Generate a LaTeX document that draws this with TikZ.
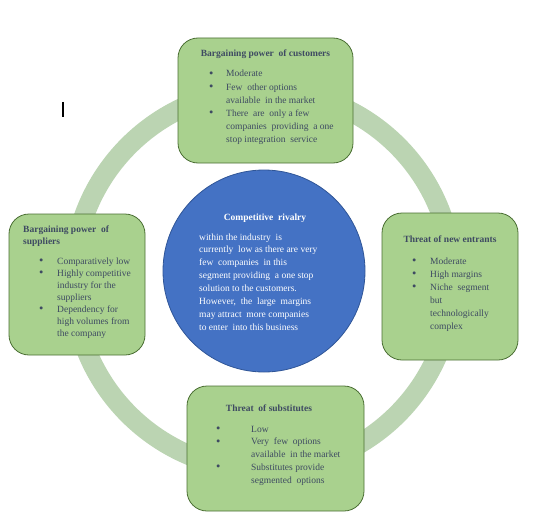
\documentclass[tikz,border=0pt]{standalone}
\usepackage{fontspec}
\setmainfont{Liberation Serif}
\usepackage{array}
\definecolor{ringc}{HTML}{BBD4B2}
\definecolor{boxfill}{HTML}{A9D18E}
\definecolor{boxline}{HTML}{4A6E33}
\definecolor{blue1}{HTML}{4472C4}
\definecolor{blue2}{HTML}{2F5597}
\definecolor{txt}{HTML}{3E4A62}
\newcommand{\bl}{\makebox[0pt][l]{\raisebox{-0.3pt}{\scalebox{1.3}{\textbullet}}}}
\begin{document}
\begin{tikzpicture}[x=1pt,y=-1pt,
  boxstyle/.style={draw=boxline,line width=0.8pt,fill=boxfill,rounded corners=20pt},
  ttl/.style={font=\fontsize{9.5}{12}\selectfont\bfseries,text=txt,inner sep=0pt},
  body/.style={font=\fontsize{9.5}{13}\selectfont,text=txt,inner sep=0pt,anchor=base west}]
\useasboundingbox (0,0) rectangle (548,524);
% ring
\draw[ringc,line width=20pt] (263,280) circle (190);
% boxes
\draw[boxstyle] (178,38) rectangle (353,163);
\draw[boxstyle] (9,214) rectangle (145,355);
\draw[boxstyle] (382,213) rectangle (518,360);
\draw[boxstyle] (187,386) rectangle (364,511);
% center circle
\node[circle,draw=blue2,line width=0.8pt,fill=blue1,minimum size=202pt,inner sep=0pt] (cr) at (264,271) {};
% cursor bar
\coordinate (c1) at (63,102); \coordinate (c2) at (63,117);
\draw[black,line width=1.6pt] (c1) -- (c2);
% top
\node[ttl,anchor=base] (t1) at (265.5,57) {Bargaining power\ \ of customers};
\node[body] (l1) at (209,77) {\fontsize{9.5}{13.2}\selectfont\begin{tabular}[t]{@{}p{17pt}@{}l@{}}
\bl & Moderate\\
\bl & Few\ \ other options\\
 & available\ \ in the market\\
\bl & There\ \ are\ \ only a few\\
 & companies\ \ providing\ \ a one\\
 & stop integration\ \ service
\end{tabular}};
% left
\node[ttl,anchor=base west] (t2) at (23,232) {Bargaining power\ \ of};
\node[ttl,anchor=base west] (t2b) at (23,244) {suppliers};
\node[body] (l2) at (39,264) {\fontsize{9.5}{12}\selectfont\begin{tabular}[t]{@{}p{18pt}@{}l@{}}
\bl & Comparatively low\\
\bl & Highly competitive\\
 & industry for the\\
 & suppliers\\
\bl & Dependency for\\
 & high volumes from\\
 & the company
\end{tabular}};
% center
\node[ttl,anchor=base,text=white] (t3) at (265,220) {Competitive\ \ rivalry};
\node[body,text=white] (l3) at (199,240) {\fontsize{9.5}{12.86}\selectfont\begin{tabular}[t]{@{}l@{}}
within the industry\ \ is\\
currently\ \ low as there are very\\
few\ \ companies\ \ in this\\
segment providing\ \ a one stop\\
solution to the customers.\\
However,\ \ the\ \ large\ \ margins\\
may attract\ \ more companies\\
to enter\ \ into this business
\end{tabular}};
% right
\node[ttl,anchor=base] (t4) at (450,242) {Threat of new entrants};
\node[body] (l4) at (412,264) {\fontsize{9.5}{13}\selectfont\begin{tabular}[t]{@{}p{18pt}@{}l@{}}
\bl & Moderate\\
\bl & High margins\\
\bl & Niche\ \ segment\\
 & but\\
 & technologically\\
 & complex
\end{tabular}};
% bottom
\node[ttl,anchor=base] (t5) at (269,411) {Threat\ \ of substitutes};
\node[body] (l5) at (216,432) {\fontsize{9.5}{12.75}\selectfont\begin{tabular}[t]{@{}p{35pt}@{}l@{}}
\bl & Low\\
\bl & Very\ \ few\ \ options\\
 & available\ \ in the market\\
\bl & Substitutes provide\\
 & segmented\ \ options
\end{tabular}};
\end{tikzpicture}
\end{document}
